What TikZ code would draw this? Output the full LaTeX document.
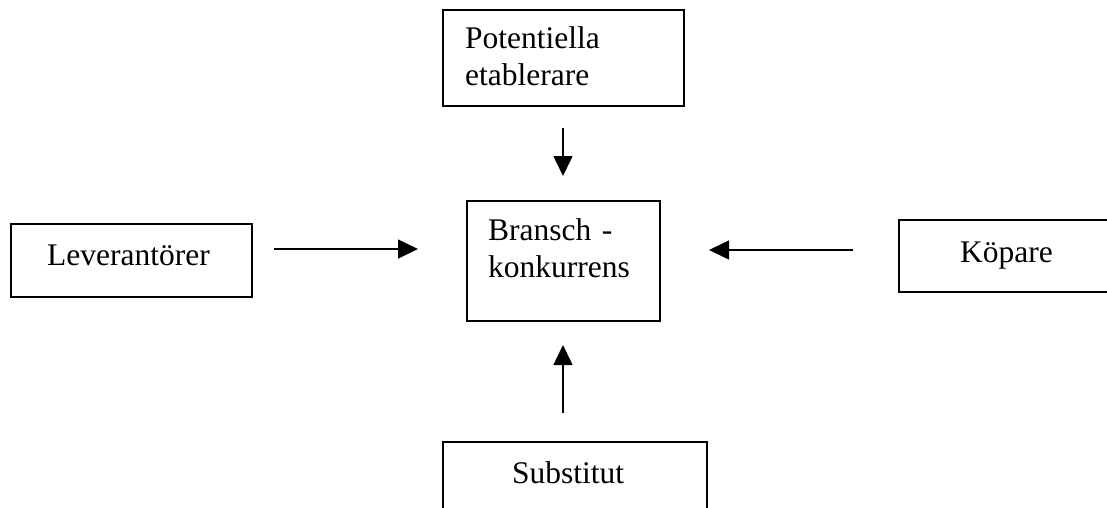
\documentclass[tikz,border=0pt]{standalone}
\usepackage{fontspec}
\setmainfont{Liberation Serif}
\usetikzlibrary{arrows.meta}
\begin{document}
\begin{tikzpicture}[x=1pt,y=-1pt,
  box/.style={draw=black, line width=1.6pt, minimum width=#1, inner sep=0pt},
  lbl/.style={inner sep=0pt, anchor=base west, font=\fontsize{31.5}{37.5}\selectfont},
  lbl2/.style={lbl, text width=7cm, align=left},
  arr/.style={line width=1.6pt, -{Triangle[length=20pt, width=19pt]}}]
\useasboundingbox (0,0) rectangle (1107,507);
\clip (0,0) rectangle (1107,507);

% boxes
\node[box=241pt, minimum height=96pt]  (pot) at (563.5,58) {};
\node[box=193pt, minimum height=120pt] (bra) at (563.5,261) {};
\node[box=241pt, minimum height=73pt]  (lev) at (131.5,260.5) {};
\node[box=211pt, minimum height=72pt]  (kop) at (1004.5,256) {};
\node[box=264pt, minimum height=78pt]  (sub) at (575,481) {};

% labels
\node[lbl2] (potT) at (465,48) {Potentiella\\etablerare};
\node[lbl2] (braT) at (488,240) {Bransch -\\konkurrens};
\node[lbl]  (levT) at (47,265) {Leverantörer};
\node[lbl]  (kopT) at (960,262) {Köpare};
\node[lbl]  (subT) at (512,483) {Substitut};

% free ends of the arrows
\coordinate (potS) at (563,128);
\coordinate (potE) at (563,176);
\coordinate (levS) at (274,249);
\coordinate (levE) at (418,249);
\coordinate (kopS) at (853,250);
\coordinate (kopE) at (709,250);
\coordinate (subS) at (563,413);
\coordinate (subE) at (563,345);

\draw[arr] (potS) -- (potE);
\draw[arr] (levS) -- (levE);
\draw[arr] (kopS) -- (kopE);
\draw[arr] (subS) -- (subE);
\end{tikzpicture}
\end{document}
